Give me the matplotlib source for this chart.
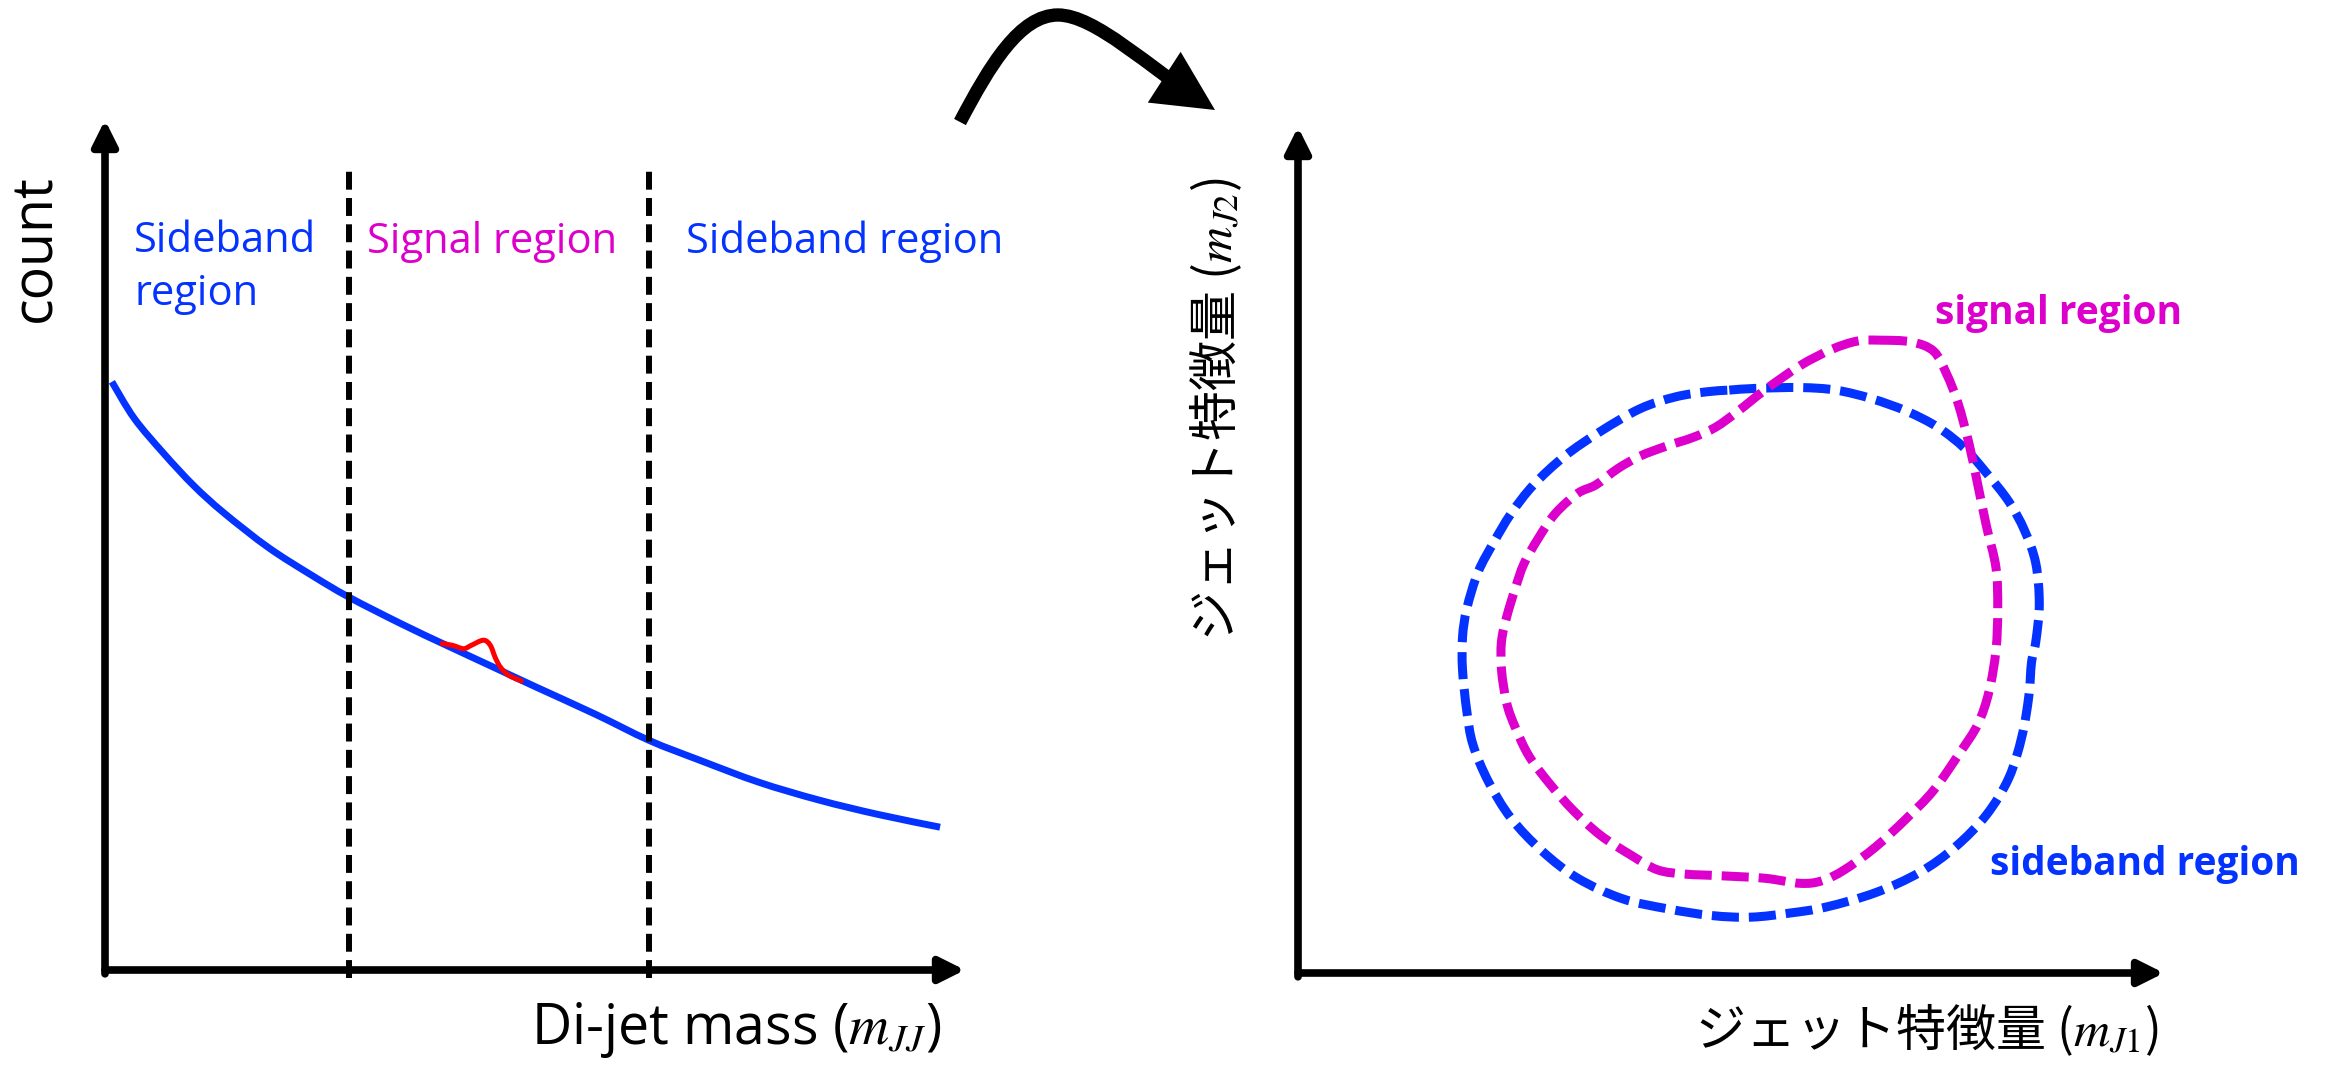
import matplotlib
matplotlib.use('Agg')
import matplotlib.pyplot as plt
from matplotlib.patches import FancyArrowPatch, PathPatch
from matplotlib.path import Path

W, H = 2340, 1079
BLUE = '#0433ff'
MAGENTA = '#dd00cc'
RED = '#ff0000'
JP = ['Noto Sans CJK JP', 'DejaVu Sans']

# left panel: falling di-jet mass background with a small bump on top
mass = [0.08, 0.34, 0.68, 1.03, 1.38, 1.90, 2.41, 2.83, 3.45, 3.97,
        4.48, 5.01, 5.70, 6.33, 6.91, 7.60, 8.30, 8.99, 9.71]
count = [6.92, 6.49, 6.08, 5.70, 5.38, 4.97, 4.64, 4.39, 4.07, 3.82,
         3.58, 3.33, 3.01, 2.70, 2.47, 2.21, 2.00, 1.83, 1.68]
bump_mass = [3.92, 4.04, 4.17, 4.26, 4.40, 4.48, 4.54, 4.60, 4.69, 4.84]
bump_count = [3.84, 3.82, 3.78, 3.82, 3.88, 3.82, 3.67, 3.56, 3.47, 3.40]
region_edges = [2.84, 6.33]
region_labels = ['Sideband\nregion', 'Signal region', 'Sideband region']

# right panel: jet-feature contours
sideband_j1 = [4.98, 5.28, 5.80, 6.21, 6.62, 7.03, 7.39, 7.70, 7.95, 8.21,
               8.39, 8.52, 8.56, 8.52, 8.47, 8.44, 8.36, 8.21, 7.95, 7.59,
               7.18, 6.67, 6.10, 5.69, 5.23, 4.77, 4.26, 3.74, 3.23, 2.82,
               2.46, 2.20, 2.02, 1.95, 1.90, 1.90, 1.95, 2.08, 2.26, 2.46,
               2.72, 3.08, 3.49, 3.95, 4.36, 4.72]
sideband_j2 = [6.89, 6.91, 6.92, 6.89, 6.79, 6.64, 6.45, 6.20, 5.91, 5.57,
               5.23, 4.84, 4.36, 3.92, 3.67, 3.28, 2.80, 2.31, 1.87, 1.49,
               1.19, 0.95, 0.78, 0.71, 0.66, 0.68, 0.76, 0.88, 1.12, 1.44,
               1.83, 2.26, 2.70, 3.09, 3.58, 3.97, 4.31, 4.74, 5.09, 5.43,
               5.77, 6.11, 6.40, 6.67, 6.81, 6.87]
signal_j1 = [6.72, 7.08, 7.34, 7.49, 7.62, 7.75, 7.85, 7.95, 8.06, 8.08,
             8.06, 7.98, 7.85, 7.64, 7.34, 7.03, 6.67, 6.31, 6.05, 5.80,
             5.39, 4.87, 4.46, 4.15, 3.85, 3.49, 3.18, 2.92, 2.67, 2.51,
             2.41, 2.35, 2.35, 2.41, 2.51, 2.61, 2.77, 2.97, 3.23, 3.44,
             3.69, 3.95, 4.26, 4.56, 4.82, 5.08, 5.39, 5.80, 6.16, 6.46]
signal_j2 = [7.48, 7.46, 7.35, 7.08, 6.74, 6.25, 5.77, 5.28, 4.79, 4.31,
             3.82, 3.33, 2.94, 2.60, 2.16, 1.83, 1.49, 1.22, 1.09, 1.06,
             1.12, 1.15, 1.17, 1.22, 1.39, 1.63, 1.92, 2.22, 2.56, 2.90,
             3.19, 3.58, 3.92, 4.21, 4.55, 4.84, 5.13, 5.43, 5.67, 5.77,
             5.96, 6.11, 6.23, 6.33, 6.45, 6.64, 6.89, 7.18, 7.37, 7.47]
contour_labels = ['signal region', 'sideband region']

# curved arrow between the panels (figure pixels, y from top)
arrow_x = [960, 990, 1020, 1058, 1095, 1150, 1215]
arrow_y = [122, 65, 15, 15, 15, 68, 110]


def fig_xy(x, y):
    """Figure pixel (y from top) to figure fraction."""
    return x / W, 1 - y / H


def smooth_path(xs, ys, closed=False):
    """Catmull-Rom curve through the given points as a Bezier path."""
    pts = list(zip(xs, ys))
    n = len(pts)
    if closed:
        get = lambda i: pts[i % n]
        segments = n
    else:
        get = lambda i: pts[min(max(i, 0), n - 1)]
        segments = n - 1
    verts = [pts[0]]
    codes = [Path.MOVETO]
    for i in range(segments):
        p0, p1, p2, p3 = get(i - 1), get(i), get(i + 1), get(i + 2)
        c1 = (p1[0] + (p2[0] - p0[0]) / 6, p1[1] + (p2[1] - p0[1]) / 6)
        c2 = (p2[0] - (p3[0] - p1[0]) / 6, p2[1] - (p3[1] - p1[1]) / 6)
        verts += [c1, c2, p2]
        codes += [Path.CURVE4] * 3
    return Path(verts, codes)


def draw_curve(ax, xs, ys, closed=False, **kw):
    patch = PathPatch(smooth_path(xs, ys, closed), fill=False, **kw)
    ax.add_patch(patch)


def make_axes(fig, x0, x1, y_top, y_bottom):
    left, bottom = fig_xy(x0, y_bottom)
    ax = fig.add_axes([left, bottom, (x1 - x0) / W, (y_bottom - y_top) / H])
    ax.set_xlim(0, 10)
    ax.set_ylim(0, 10)
    ax.set_axis_off()
    # axis lines with arrow heads
    style = '-|>,head_length=15,head_width=7.5'
    props = dict(arrowstyle=style, mutation_scale=1, lw=5.5, color='k',
                 shrinkA=0, shrinkB=0)
    ax.annotate('', xy=(0, 1), xytext=(0, -0.0045),
                xycoords='axes fraction', arrowprops=props)
    ax.annotate('', xy=(1, 0), xytext=(0, 0),
                xycoords='axes fraction', arrowprops=props)
    return ax


def main():
    plt.rcParams['font.family'] = ['Open Sans', 'Noto Sans CJK JP', 'DejaVu Sans']
    plt.rcParams['mathtext.fontset'] = 'stix'
    fig = plt.figure(figsize=(W / 100, H / 100), dpi=100)

    # left: di-jet mass spectrum
    ax = make_axes(fig, 105, 965, 120, 970)
    draw_curve(ax, mass, count, edgecolor=BLUE, lw=5, capstyle='butt')
    draw_curve(ax, bump_mass, bump_count, edgecolor=RED, lw=3.6,
               capstyle='round')
    for edge in region_edges:
        ax.plot([edge, edge], [-0.09, 9.41], color='k', lw=4.3,
                linestyle=(0, (3, 1.4)), clip_on=False)

    text = dict(ha='left', va='baseline', fontsize=30)
    first, second = region_labels[0].split('\n')
    fig.text(*fig_xy(134, 252), first, color=BLUE, **text)
    fig.text(*fig_xy(134, 305), second, color=BLUE, **text)
    fig.text(*fig_xy(367, 253), region_labels[1], color=MAGENTA, **text)
    fig.text(*fig_xy(686, 253), region_labels[2], color=BLUE, **text)
    fig.text(*fig_xy(36, 248), 'count', rotation=90, ha='center',
             va='center', fontsize=40)
    fig.text(*fig_xy(736, 1030), 'Di-jet mass ($m_{JJ}$)', ha='center',
             va='center', fontsize=40)

    # right: jet feature plane
    ax = make_axes(fig, 1298, 2164, 127, 973)
    dash = (0, (3, 1.1))
    draw_curve(ax, sideband_j1, sideband_j2, closed=True, edgecolor=BLUE,
               lw=6.5, linestyle=dash)
    draw_curve(ax, signal_j1, signal_j2, closed=True, edgecolor=MAGENTA,
               lw=6.5, linestyle=dash)
    bold = dict(ha='left', va='baseline', fontsize=28, fontweight='bold')
    fig.text(*fig_xy(1935, 324), contour_labels[0], color=MAGENTA, **bold)
    fig.text(*fig_xy(1990, 875), contour_labels[1], color=BLUE, **bold)
    fig.text(*fig_xy(1216, 409), 'ジェット特徴量 ($m_{J2}$)', rotation=90,
             ha='center', va='center', fontsize=36, family=JP)
    fig.text(*fig_xy(1927, 1030), 'ジェット特徴量 ($m_{J1}$)',
             ha='center', va='center', fontsize=36, family=JP)

    # curved arrow from the spectrum to the feature plane
    verts = [fig_xy(x, y) for x, y in zip(arrow_x, arrow_y)]
    codes = [Path.MOVETO] + [Path.CURVE4] * 6
    arrow = FancyArrowPatch(path=Path(verts, codes),
                            arrowstyle='-|>,head_length=28,head_width=14',
                            mutation_scale=1, lw=9.6, color='k',
                            capstyle='butt', joinstyle='miter',
                            transform=fig.transFigure)
    fig.add_artist(arrow)

    fig.savefig('out.png', dpi=100)
    plt.close(fig)


if __name__ == '__main__':
    main()
